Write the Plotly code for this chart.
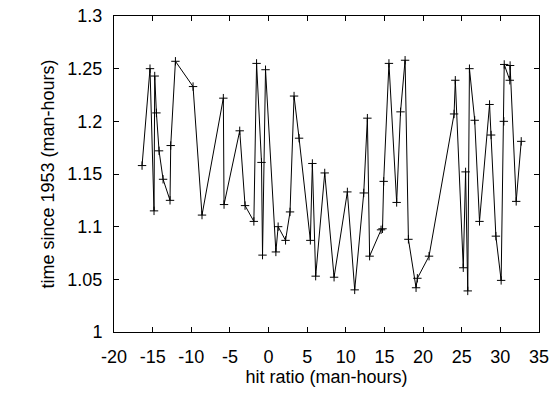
import plotly.graph_objects as go

hit_ratio = [-16.37, -15.34, -14.82, -14.73, -14.51, -14.17, -13.65, -12.75, -12.66, -12.05,
             -9.77, -8.61, -5.85, -5.76, -3.73, -3.04, -1.90, -1.55, -0.91, -0.78,
             -0.39, 0.95, 1.24, 2.20, 2.78, 3.30, 3.95, 5.41, 5.67, 6.10,
             7.27, 8.48, 10.20, 11.15, 12.32, 12.79, 13.08, 14.56, 14.75, 14.90,
             15.58, 16.58, 17.08, 17.67, 18.10, 19.09, 19.26, 20.77, 24.01, 24.17,
             25.20, 25.50, 25.78, 26.00, 26.68, 27.30, 28.60, 28.80, 29.42, 30.10,
             30.45, 30.50, 31.22, 31.26, 32.05, 32.70]
time_1953 = [1.158, 1.250, 1.115, 1.243, 1.208, 1.172, 1.145, 1.125, 1.177, 1.257,
             1.233, 1.111, 1.222, 1.121, 1.191, 1.120, 1.105, 1.255, 1.161, 1.073,
             1.249, 1.076, 1.100, 1.087, 1.114, 1.224, 1.184, 1.087, 1.160, 1.053,
             1.151, 1.052, 1.133, 1.040, 1.132, 1.203, 1.072, 1.097, 1.098, 1.143,
             1.255, 1.123, 1.209, 1.258, 1.088, 1.042, 1.051, 1.072, 1.207, 1.239,
             1.061, 1.152, 1.039, 1.250, 1.201, 1.105, 1.216, 1.187, 1.091, 1.049,
             1.200, 1.254, 1.239, 1.253, 1.124, 1.181]

x_ticks = [-20, -15, -10, -5, 0, 5, 10, 15, 20, 25, 30, 35]
y_ticks = [1, 1.05, 1.1, 1.15, 1.2, 1.25, 1.3]
y_tick_text = ["1", "1.05", "1.1", "1.15", "1.2", "1.25", "1.3"]

fig = go.Figure()
fig.add_trace(go.Scatter(
    x=hit_ratio, y=time_1953, mode="lines+markers",
    line=dict(color="black", width=1),
    marker=dict(symbol="cross-thin", size=6, line=dict(color="black", width=1)),
    showlegend=False,
))

font = dict(family="Liberation Sans, Arial, sans-serif", size=18, color="black")
fig.update_layout(
    width=554, height=394,
    margin=dict(l=114, r=15, t=16, b=62),
    paper_bgcolor="white", plot_bgcolor="white",
    font=font,
)
fig.update_xaxes(
    range=[-20, 35], tickvals=x_ticks, ticktext=[str(v) for v in x_ticks],
    showgrid=False, zeroline=False, showline=True, linecolor="black", linewidth=1,
    mirror="ticks", ticks="inside", ticklen=5, tickcolor="black",
    ticklabelstandoff=8, automargin=False,
    title=dict(text="hit ratio (man-hours)", font=font, standoff=2),
)
fig.update_yaxes(
    range=[1, 1.3], tickvals=y_ticks, ticktext=y_tick_text,
    showgrid=False, zeroline=False, showline=True, linecolor="black", linewidth=1,
    mirror="ticks", ticks="inside", ticklen=5, tickcolor="black",
    ticklabelstandoff=7, automargin=False,
    title=dict(text="time since 1953 (man-hours)", font=font, standoff=8),
)
fig.write_html(
    "out.html",
    config={"displayModeBar": False},
    post_script="document.body.style.margin='0';document.body.style.overflow='hidden';",
)
